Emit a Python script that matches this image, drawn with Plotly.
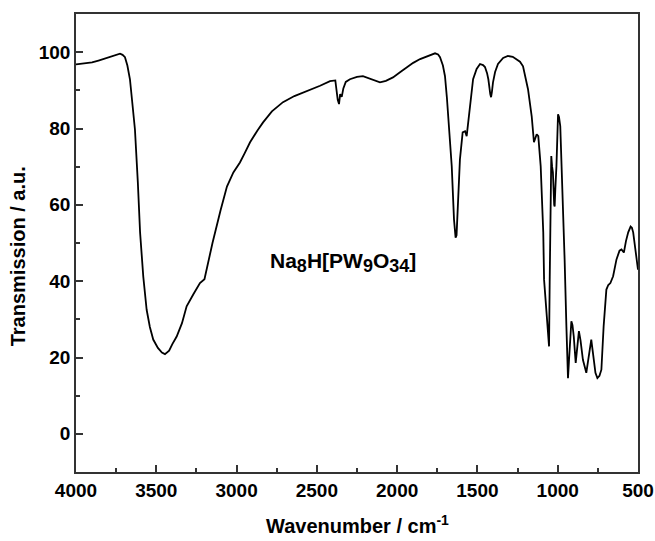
import plotly.graph_objects as go

wavenumber = [4000, 3950, 3900, 3860, 3820, 3780, 3750, 3726, 3710, 3695, 3680, 3664, 3650, 3633, 3615, 3601,
              3581, 3560, 3540, 3519, 3490, 3465, 3446, 3420, 3400, 3373, 3340, 3311, 3270, 3228, 3200, 3150,
              3100, 3060, 3020, 2979, 2950, 2916, 2870, 2835, 2780, 2711, 2640, 2561, 2480, 2418, 2385, 2370,
              2362, 2355, 2345, 2335, 2320, 2294, 2250, 2213, 2160, 2107, 2070, 2026, 1980, 1939, 1900, 1857,
              1810, 1764, 1745, 1733, 1715, 1702, 1690, 1683, 1670, 1660, 1646, 1636, 1630, 1621, 1609, 1592,
              1577, 1567, 1551, 1540, 1527, 1505, 1484, 1465, 1453, 1440, 1432, 1420, 1415, 1410, 1403, 1390,
              1372, 1340, 1310, 1280, 1255, 1235, 1216, 1200, 1185, 1162, 1148, 1131, 1121, 1106, 1090, 1085,
              1069, 1058, 1054, 1050, 1045, 1040, 1035, 1030, 1022, 1019, 1015, 1008, 998, 992, 984, 975,
              967, 957, 946, 936, 930, 925, 915, 908, 900, 888, 878, 868, 858, 843, 822, 805,
              791, 783, 776, 765, 753, 740, 728, 714, 697, 685, 672, 655, 634, 615, 603, 588,
              575, 561, 546, 538, 530, 520, 509, 500]
transmission = [96.8, 97.0, 97.3, 97.8, 98.3, 98.8, 99.2, 99.6, 99.3, 98.7, 96.5, 92.9, 87.0, 79.8, 66.0, 52.8,
                41.2, 32.5, 28.0, 24.7, 22.5, 21.3, 20.9, 21.8, 23.5, 25.5, 29.0, 33.4, 36.5, 39.5, 40.5, 50.0,
                58.5, 64.8, 68.5, 71.1, 73.5, 76.4, 79.5, 81.6, 84.5, 86.9, 88.5, 89.8, 91.2, 92.4, 92.6, 87.5,
                86.4, 89.0, 88.3, 90.5, 92.2, 92.9, 93.5, 93.7, 93.0, 92.1, 92.5, 93.4, 94.8, 96.1, 97.2, 98.2,
                99.0, 99.7, 99.4, 98.7, 96.5, 93.7, 88.0, 83.2, 76.0, 70.1, 56.2, 51.4, 52.0, 61.4, 71.9, 79.0,
                79.3, 78.0, 84.3, 89.0, 92.9, 95.6, 96.9, 96.6, 96.1, 94.5, 92.9, 89.0, 88.2, 89.5, 92.1, 94.8,
                96.9, 98.5, 99.0, 98.8, 98.2, 97.5, 96.3, 93.5, 90.3, 83.2, 76.4, 78.5, 78.0, 70.1, 52.8, 40.4,
                31.2, 23.0, 22.9, 40.0, 62.0, 72.8, 70.0, 68.5, 60.0, 59.6, 64.0, 70.1, 83.7, 83.0, 80.6, 70.0,
                61.4, 45.7, 28.2, 14.6, 19.0, 23.9, 29.5, 28.5, 25.5, 18.6, 22.0, 26.9, 24.5, 19.4, 16.0, 20.5,
                24.7, 22.0, 19.4, 16.0, 14.6, 15.2, 16.8, 28.2, 37.8, 39.0, 39.5, 41.3, 45.7, 48.0, 48.3, 47.5,
                50.5, 52.8, 54.3, 54.0, 52.8, 49.5, 45.7, 43.0]

x_ticks = [4000, 3500, 3000, 2500, 2000, 1500, 1000, 500]
y_ticks = [0, 20, 40, 60, 80, 100]
compound_label = ("Na<sub><span style='font-size:18px'>8</span></sub>H[PW<sub><span style='font-size:18px'>9</span></sub>"
                  "O<sub><span style='font-size:18px'>34</span></sub>]")
x_title = "Wavenumber / cm<sup>-1</sup>"
y_title = "Transmission / a.u."

font_family = "Liberation Sans, Arial, sans-serif"

fig = go.Figure()
fig.add_trace(go.Scatter(x=wavenumber, y=transmission, mode="lines",
                         line=dict(color="black", width=1.8), showlegend=False))

axis_common = dict(
    showline=True, linecolor="#333333", linewidth=1.5, mirror=True,
    ticks="inside", ticklen=7, tickwidth=1.5, tickcolor="#333333",
    showgrid=False, zeroline=False, automargin=False,
    tickfont=dict(family=font_family, size=19, color="black", weight="bold"),
)

fig.update_layout(
    width=655, height=541,
    margin=dict(l=76, r=17, t=14, b=69),
    paper_bgcolor="white", plot_bgcolor="white",
    xaxis=dict(range=[4000, 500], tickvals=x_ticks, ticktext=[str(v) for v in x_ticks],
               minor=dict(ticks="inside", ticklen=4, tickwidth=1.5, tickcolor="#333333", dtick=250,
                          tick0=0, showgrid=False),
               **axis_common),
    yaxis=dict(range=[-10, 110], tickvals=y_ticks, ticktext=[str(v) for v in y_ticks],
               minor=dict(ticks="inside", ticklen=4, tickwidth=1.5, tickcolor="#333333", dtick=10,
                          tick0=0, showgrid=False),
               **axis_common),
    annotations=[
        dict(x=2337, y=44.9, xref="x", yref="y", text=compound_label, showarrow=False,
             font=dict(family=font_family, size=21, color="black", weight="bold")),
        dict(x=0.5, y=-0.115, xref="paper", yref="paper", text=x_title, showarrow=False,
             yanchor="middle", xanchor="center",
             font=dict(family=font_family, size=20, color="black", weight="bold")),
        dict(x=-0.104, y=0.47, xref="paper", yref="paper", text=y_title, showarrow=False,
             textangle=-90, xanchor="center", yanchor="middle",
             font=dict(family=font_family, size=20, color="black", weight="bold")),
    ],
)

fig.write_html("out.html", config={"displayModeBar": False},
               post_script="document.body.style.margin='0px';")
